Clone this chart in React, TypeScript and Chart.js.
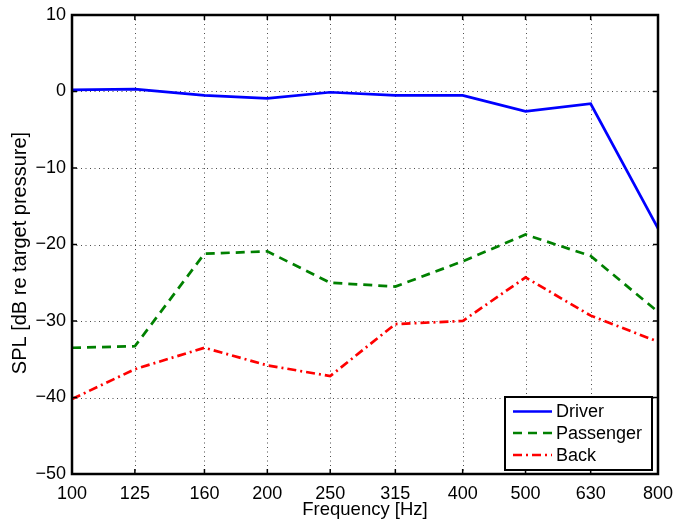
import React, { useEffect, useRef } from "react";
import { Chart, registerables } from "chart.js";

Chart.register(...registerables);

const frequencies = [100, 125, 160, 200, 250, 315, 400, 500, 630, 800];
const driver = [0.2, 0.3, -0.5, -0.9, -0.1, -0.5, -0.5, -2.6, -1.6, -17.9];
const passenger = [-33.5, -33.3, -21.2, -20.9, -25.0, -25.5, -22.2, -18.7, -21.5, -28.8];
const back = [-40.2, -36.3, -33.5, -35.8, -37.2, -30.4, -30.0, -24.3, -29.3, -32.7];
const yTicks = [-50, -40, -30, -20, -10, 0, 10];
const seriesNames = ["Driver", "Passenger", "Back"];
const seriesColors = ["#0000ff", "#008000", "#ff0000"];
const seriesDashes: number[][] = [[], [9, 6], [9, 4, 2, 4]];
const xTitle = "Frequency [Hz]";
const yTitle = "SPL [dB re target pressure]";

const FONT = "'Liberation Sans', Arial, Helvetica, sans-serif";
const FS = 18;

const fmt = (v: number) => (v < 0 ? "\u2212" + Math.abs(v) : String(v));

const matlabPlugin = {
  id: "matlabFrame",
  beforeDatasetsDraw(chart: any) {
    const { ctx, chartArea: a, scales } = chart;
    ctx.save();
    ctx.strokeStyle = "rgba(0,0,0,0.7)";
    ctx.lineWidth = 1;
    ctx.setLineDash([1, 3.5]);
    for (const v of frequencies) {
      const x = Math.round(scales.x.getPixelForValue(v)) + 0.5;
      if (x <= a.left + 2 || x >= a.right - 2) continue;
      ctx.beginPath();
      ctx.moveTo(x, a.top);
      ctx.lineTo(x, a.bottom);
      ctx.stroke();
    }
    for (const v of yTicks) {
      const y = Math.round(scales.y.getPixelForValue(v)) + 0.5;
      if (y <= a.top + 2 || y >= a.bottom - 2) continue;
      ctx.beginPath();
      ctx.moveTo(a.left, y);
      ctx.lineTo(a.right, y);
      ctx.stroke();
    }
    ctx.restore();
  },
  afterDatasetsDraw(chart: any) {
    const { ctx, chartArea: a, scales } = chart;
    ctx.save();
    ctx.setLineDash([]);
    ctx.strokeStyle = "#000";
    ctx.lineWidth = 1.5;
    const tl = 5;
    for (const v of frequencies) {
      const x = scales.x.getPixelForValue(v);
      ctx.beginPath();
      ctx.moveTo(x, a.bottom);
      ctx.lineTo(x, a.bottom - tl);
      ctx.moveTo(x, a.top);
      ctx.lineTo(x, a.top + tl);
      ctx.stroke();
    }
    for (const v of yTicks) {
      const y = scales.y.getPixelForValue(v);
      ctx.beginPath();
      ctx.moveTo(a.left, y);
      ctx.lineTo(a.left + tl, y);
      ctx.moveTo(a.right, y);
      ctx.lineTo(a.right - tl, y);
      ctx.stroke();
    }
    ctx.lineWidth = 2.5;
    ctx.strokeRect(a.left, a.top, a.right - a.left, a.bottom - a.top);
    ctx.restore();
  },
  afterDraw(chart: any) {
    const { ctx, chartArea: a } = chart;
    // legend
    const w = 147;
    const h = 73;
    const bx = a.right - 6 - w;
    const by = a.bottom - 4 - h;
    ctx.save();
    ctx.fillStyle = "#fff";
    ctx.fillRect(bx, by, w, h);
    ctx.strokeStyle = "#000";
    ctx.lineWidth = 2;
    ctx.setLineDash([]);
    ctx.strokeRect(bx, by, w, h);
    ctx.font = `${FS}px ${FONT}`;
    ctx.textBaseline = "middle";
    ctx.textAlign = "left";
    const rows = [14.5, 36, 58];
    for (let i = 0; i < seriesNames.length; i++) {
      const y = by + rows[i];
      ctx.strokeStyle = seriesColors[i];
      ctx.lineWidth = 2.5;
      ctx.setLineDash(seriesDashes[i]);
      ctx.beginPath();
      ctx.moveTo(bx + 8, y);
      ctx.lineTo(bx + 47, y);
      ctx.stroke();
      ctx.fillStyle = "#000";
      ctx.fillText(seriesNames[i], bx + 51, y + 1);
    }
    ctx.restore();
    // y title
    ctx.save();
    ctx.translate(25.5, (a.top + a.bottom) / 2 + 8.5);
    ctx.rotate(-Math.PI / 2);
    ctx.font = `20px ${FONT}`;
    ctx.fillStyle = "#000";
    ctx.textAlign = "center";
    ctx.textBaseline = "alphabetic";
    ctx.fillText(yTitle, 0, 0);
    ctx.restore();
  },
};

export default function App() {
  const canvasRef = useRef<HTMLCanvasElement | null>(null);

  useEffect(() => {
    document.body.style.margin = "0";
    const canvas = canvasRef.current;
    if (!canvas) return;
    const makeData = (vals: number[]) => frequencies.map((f, i) => ({ x: f, y: vals[i] }));
    const allSeries = [driver, passenger, back];
    const chart = new Chart(canvas, {
      type: "line",
      data: {
        datasets: allSeries.map((vals, i) => ({
          label: seriesNames[i],
          data: makeData(vals),
          borderColor: seriesColors[i],
          backgroundColor: seriesColors[i],
          borderWidth: 2.7,
          borderDash: seriesDashes[i],
          pointRadius: 0,
          tension: 0,
          fill: false,
        })),
      },
      options: {
        responsive: false,
        animation: false,
        devicePixelRatio: 1,
        layout: { padding: { top: 15, right: 18, left: 0, bottom: 0 } },
        plugins: {
          legend: { display: false },
          tooltip: { enabled: false },
        },
        scales: {
          x: {
            type: "logarithmic",
            min: 100,
            max: 800,
            afterBuildTicks: (scale: any) => {
              scale.ticks = frequencies.map((v) => ({ value: v }));
            },
            afterFit: (scale: any) => {
              scale.height = 53;
              scale.paddingLeft = 0;
              scale.paddingRight = 0;
            },
            grid: { display: false, drawTicks: false },
            border: { display: false },
            ticks: {
              autoSkip: false,
              maxRotation: 0,
              minRotation: 0,
              padding: 9,
              color: "#000",
              font: { family: FONT, size: FS },
              callback: (v: any) => String(v),
            },
            title: {
              display: true,
              text: xTitle,
              color: "#000",
              font: { family: FONT, size: 18.5 },
              padding: { top: 0, bottom: 5.5 },
            },
          },
          y: {
            type: "linear",
            min: -50,
            max: 10,
            afterBuildTicks: (scale: any) => {
              scale.ticks = yTicks.map((v) => ({ value: v }));
            },
            afterFit: (scale: any) => {
              scale.width = 72;
              scale.paddingTop = 0;
              scale.paddingBottom = 0;
            },
            grid: { display: false, drawTicks: false },
            border: { display: false },
            ticks: {
              padding: 6,
              color: "#000",
              font: { family: FONT, size: FS },
              callback: (v: any) => fmt(Number(v)),
            },
            title: { display: false },
          },
        },
      },
      plugins: [matlabPlugin],
    } as any);
    return () => chart.destroy();
  }, []);

  return (
    <div style={{ width: 676, height: 527 }}>
      <canvas ref={canvasRef} width={676} height={527} style={{ display: "block" }} />
    </div>
  );
}
